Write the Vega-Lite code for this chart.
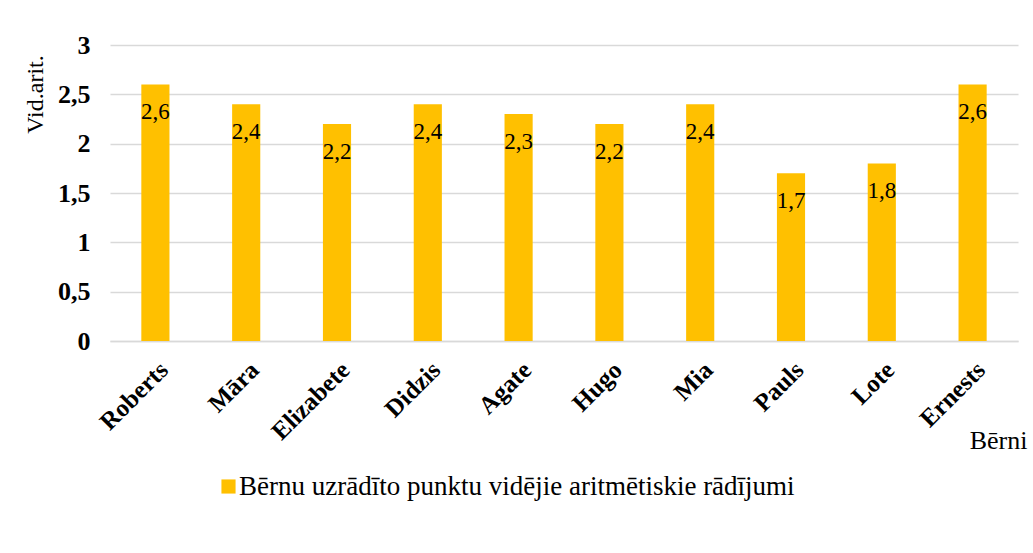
{
  "$schema": "https://vega.github.io/schema/vega-lite/v6.json",
  "width": 908,
  "height": 296,
  "autosize": {"type": "none"},
  "padding": {"left": 110, "top": 45, "right": 15, "bottom": 212},
  "background": "white",
  "config": {
    "locale": {"number": {"decimal": ",", "thousands": " ", "grouping": [3], "currency": ["", " €"]}},
    "view": {"stroke": null},
    "font": "Liberation Serif"
  },
  "data": {
    "values": [
      {"name": "Roberts", "value": 2.6, "series": "Bērnu uzrādīto punktu vidējie aritmētiskie rādījumi"},
      {"name": "Māra", "value": 2.4, "series": "Bērnu uzrādīto punktu vidējie aritmētiskie rādījumi"},
      {"name": "Elizabete", "value": 2.2, "series": "Bērnu uzrādīto punktu vidējie aritmētiskie rādījumi"},
      {"name": "Didzis", "value": 2.4, "series": "Bērnu uzrādīto punktu vidējie aritmētiskie rādījumi"},
      {"name": "Agate", "value": 2.3, "series": "Bērnu uzrādīto punktu vidējie aritmētiskie rādījumi"},
      {"name": "Hugo", "value": 2.2, "series": "Bērnu uzrādīto punktu vidējie aritmētiskie rādījumi"},
      {"name": "Mia", "value": 2.4, "series": "Bērnu uzrādīto punktu vidējie aritmētiskie rādījumi"},
      {"name": "Pauls", "value": 1.7, "series": "Bērnu uzrādīto punktu vidējie aritmētiskie rādījumi"},
      {"name": "Lote", "value": 1.8, "series": "Bērnu uzrādīto punktu vidējie aritmētiskie rādījumi"},
      {"name": "Ernests", "value": 2.6, "series": "Bērnu uzrādīto punktu vidējie aritmētiskie rādījumi"}
    ]
  },
  "encoding": {
    "x": {
      "field": "name",
      "type": "nominal",
      "sort": null,
      "scale": {"paddingInner": 0.69, "paddingOuter": 0.345},
      "axis": {
        "title": "Bērni",
        "titleFont": "Liberation Serif",
        "titleFontSize": 26,
        "titleFontWeight": "normal",
        "titleColor": "black",
        "titleX": 888,
        "titleY": 99,
        "titleAlign": "center",
        "titleBaseline": "middle",
        "labelAngle": -45,
        "labelFont": "Liberation Serif",
        "labelFontSize": 25,
        "labelFontWeight": "bold",
        "labelColor": "black",
        "labelPadding": 16,
        "ticks": false,
        "domainColor": "#D9D9D9",
        "domainWidth": 1.5,
        "grid": false
      }
    },
    "y": {
      "field": "value",
      "type": "quantitative",
      "scale": {"domain": [0, 3]},
      "axis": {
        "title": "Vid.arit.",
        "titleFont": "Liberation Serif",
        "titleFontSize": 24,
        "titleFontWeight": "normal",
        "titleColor": "black",
        "titleX": -75,
        "titleY": 49,
        "titleAngle": -90,
        "titleAlign": "center",
        "titleBaseline": "middle",
        "values": [0, 0.5, 1, 1.5, 2, 2.5, 3],
        "format": ".1~f",
        "labelFont": "Liberation Serif",
        "labelFontSize": 26,
        "labelFontWeight": "bold",
        "labelColor": "black",
        "labelPadding": 20,
        "ticks": false,
        "domain": false,
        "gridColor": "#D9D9D9",
        "gridWidth": 1.5
      }
    }
  },
  "layer": [
    {
      "mark": {"type": "bar", "color": "#FFC000"},
      "encoding": {
        "color": {
          "field": "series",
          "type": "nominal",
          "scale": {"range": ["#FFC000"]},
          "legend": {
            "title": null,
            "orient": "none",
            "legendX": 105,
            "legendY": 428,
            "symbolType": "square",
            "symbolSize": 200,
            "symbolStrokeWidth": 0,
            "labelFont": "Liberation Serif",
            "labelFontSize": 27,
            "labelColor": "black",
            "labelLimit": 800,
            "labelOffset": -3
          }
        }
      }
    },
    {
      "mark": {"type": "text", "baseline": "middle", "dy": 28, "font": "Liberation Serif", "fontSize": 23, "color": "black"},
      "encoding": {
        "text": {"field": "value", "type": "quantitative", "format": ".1f"}
      }
    }
  ]
}
